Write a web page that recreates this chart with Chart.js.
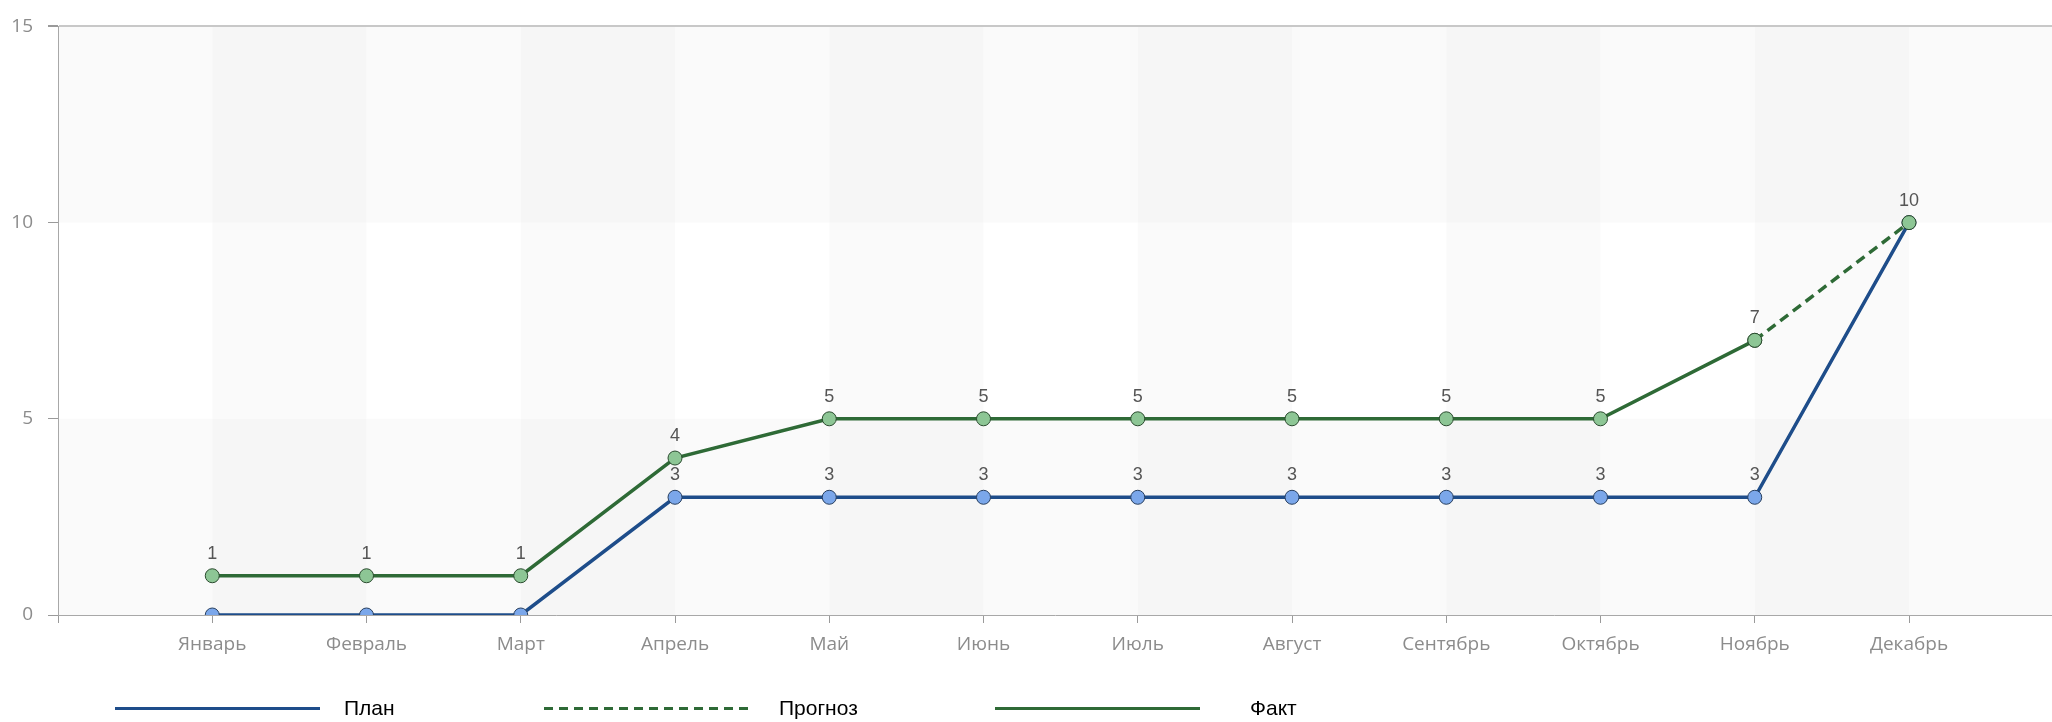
<!DOCTYPE html>
<html lang="ru">
<head>
<meta charset="utf-8">
<title>План / Прогноз / Факт</title>
<script src="https://cdn.jsdelivr.net/npm/chart.js@4.4.1/dist/chart.umd.min.js"></script>
<style>
  html, body { margin: 0; padding: 0; background: #fff; overflow: hidden; }
  .chart-wrap { position: relative; width: 2052px; height: 722px; }
  #planChart { display: block; }
  .legend { position: absolute; left: 0; top: 695px; width: 100%; height: 26px;
            font-family: "Liberation Sans", Arial, sans-serif; font-size: 21px; color: #000; }
  .legend-line { position: absolute; top: 12px; height: 3px; width: 205px; }
  .legend-text { position: absolute; top: 0; line-height: 26px; white-space: nowrap; }
</style>
</head>
<body>
<div class="chart-wrap">
  <canvas id="planChart" width="2052" height="722"></canvas>
  <div class="legend" id="planLegend"></div>
</div>
<script>
// Chart data
const months = ["Январь", "Февраль", "Март", "Апрель", "Май", "Июнь", "Июль", "Август", "Сентябрь", "Октябрь", "Ноябрь", "Декабрь"];
const seriesNames = ["План", "Прогноз", "Факт"];
const planValues = [0, 0, 0, 3, 3, 3, 3, 3, 3, 3, 3, 10];
const forecastValues = [null, null, null, null, null, null, null, null, null, null, 7, 10];
const factValues = [1, 1, 1, 4, 5, 5, 5, 5, 5, 5, 7, null];
const yTicks = [0, 5, 10, 15];

const planColor = "#1e4d8a";
const factColor = "#2e6a36";

// legend positions (px from left)
const legendLayout = [
  { line: 115, text: 344 },
  { line: 544, text: 779 },
  { line: 995, text: 1250 }
];
const legendStyles = [
  { color: planColor, dashed: false },
  { color: factColor, dashed: true },
  { color: factColor, dashed: false }
];

document.addEventListener("DOMContentLoaded", function () {
  initPlanChart();
  buildLegend();
});

function toPoints(values) {
  return values.map((v, i) => ({ x: i, y: v }));
}

// striped background: every other row and every other month column
const bandsPlugin = {
  id: "bands",
  beforeDraw(chart) {
    const { ctx, chartArea: a, scales: { x, y } } = chart;
    ctx.save();
    ctx.fillStyle = "rgba(0, 0, 0, 0.02)";
    for (let i = 0; i < yTicks.length - 1; i += 2) {
      const top = y.getPixelForValue(yTicks[i + 1]);
      const bottom = y.getPixelForValue(yTicks[i]);
      ctx.fillRect(a.left, top, a.right - a.left, bottom - top);
    }
    for (let i = 0; i < months.length - 1; i += 2) {
      const l = x.getPixelForValue(i);
      const r = x.getPixelForValue(i + 1);
      ctx.fillRect(l, a.top, r - l, a.bottom - a.top);
    }
    ctx.restore();
  }
};

// value labels above points (zeros and duplicates skipped)
const valueLabelsPlugin = {
  id: "valueLabels",
  afterDatasetsDraw(chart) {
    const ctx = chart.ctx;
    const seen = new Set();
    ctx.save();
    ctx.font = '18px "Liberation Sans", Arial, sans-serif';
    ctx.fillStyle = "#555";
    ctx.textAlign = "center";
    ctx.textBaseline = "alphabetic";
    chart.data.datasets.forEach((ds, di) => {
      const meta = chart.getDatasetMeta(di);
      meta.data.forEach((pt, i) => {
        const v = ds.data[i].y;
        if (v === null || v === 0) return;
        const key = i + ":" + v;
        if (seen.has(key)) return;
        seen.add(key);
        ctx.fillText(String(v), pt.x, pt.y - 17);
      });
    });
    ctx.restore();
  }
};

function initPlanChart() {
  const ctx = document.getElementById("planChart").getContext("2d");
  const tickFont = { family: '"Open Sans", sans-serif', size: 19 };

  const pointStyle = {
    borderWidth: 3.5,
    pointRadius: 7,
    pointBorderWidth: 1,
    clip: 0
  };

  window.planChart = new Chart(ctx, {
    type: "line",
    data: {
      datasets: [
        Object.assign({
          label: seriesNames[0],
          data: toPoints(planValues),
          borderColor: planColor,
          pointBackgroundColor: "#7ba7ea",
          pointBorderColor: "#283f5e",
          order: 2
        }, pointStyle),
        Object.assign({
          label: seriesNames[1],
          data: toPoints(forecastValues),
          borderColor: factColor,
          borderDash: [10, 6],
          pointBackgroundColor: "#8dc695",
          pointBorderColor: "#2a4a2e",
          order: 1
        }, pointStyle),
        Object.assign({
          label: seriesNames[2],
          data: toPoints(factValues),
          borderColor: factColor,
          pointBackgroundColor: "#8dc695",
          pointBorderColor: "#2a4a2e",
          order: 1
        }, pointStyle)
      ]
    },
    options: {
      responsive: false,
      maintainAspectRatio: false,
      animation: false,
      layout: { autoPadding: false, padding: { top: 23, left: 0, right: 0, bottom: 0 } },
      plugins: {
        legend: { display: false },
        tooltip: { enabled: false }
      },
      scales: {
        x: {
          type: "linear",
          min: -1,
          max: 11.927,
          afterFit: function (scale) {
            scale.height = 107;
            scale.paddingLeft = 0;
            scale.paddingRight = 0;
          },
          grid: { drawOnChartArea: false, tickLength: 8, color: "#9a9a9a" },
          border: { color: "#a8a8a8" },
          ticks: {
            stepSize: 1,
            includeBounds: false,
            autoSkip: false,
            maxRotation: 0,
            padding: 10,
            color: "#8c8c8c",
            font: tickFont,
            callback: function (value) {
              return months[value] !== undefined ? months[value] : "";
            }
          }
        },
        y: {
          min: yTicks[0],
          max: yTicks[yTicks.length - 1],
          afterFit: function (scale) { scale.width = 58; },
          grid: {
            tickLength: 10,
            tickColor: "#9a9a9a",
            color: function (c) { return c.tick && c.tick.value === 15 ? "#c8c8c8" : "rgba(0,0,0,0)"; },
            lineWidth: function (c) { return c.tick && c.tick.value === 15 ? 2 : 1; }
          },
          border: { color: "#a8a8a8" },
          ticks: {
            stepSize: 5,
            padding: 15,
            color: "#8c8c8c",
            font: tickFont
          }
        }
      }
    },
    plugins: [bandsPlugin, valueLabelsPlugin]
  });
}

function buildLegend() {
  const legend = document.getElementById("planLegend");
  seriesNames.forEach((name, i) => {
    const line = document.createElement("div");
    line.className = "legend-line";
    line.style.left = legendLayout[i].line + "px";
    const st = legendStyles[i];
    line.style.background = st.dashed
      ? "repeating-linear-gradient(90deg, " + st.color + " 0 9px, transparent 9px 15px)"
      : st.color;
    legend.appendChild(line);

    const text = document.createElement("div");
    text.className = "legend-text";
    text.style.left = legendLayout[i].text + "px";
    text.textContent = name;
    legend.appendChild(text);
  });
}
</script>
</body>
</html>
